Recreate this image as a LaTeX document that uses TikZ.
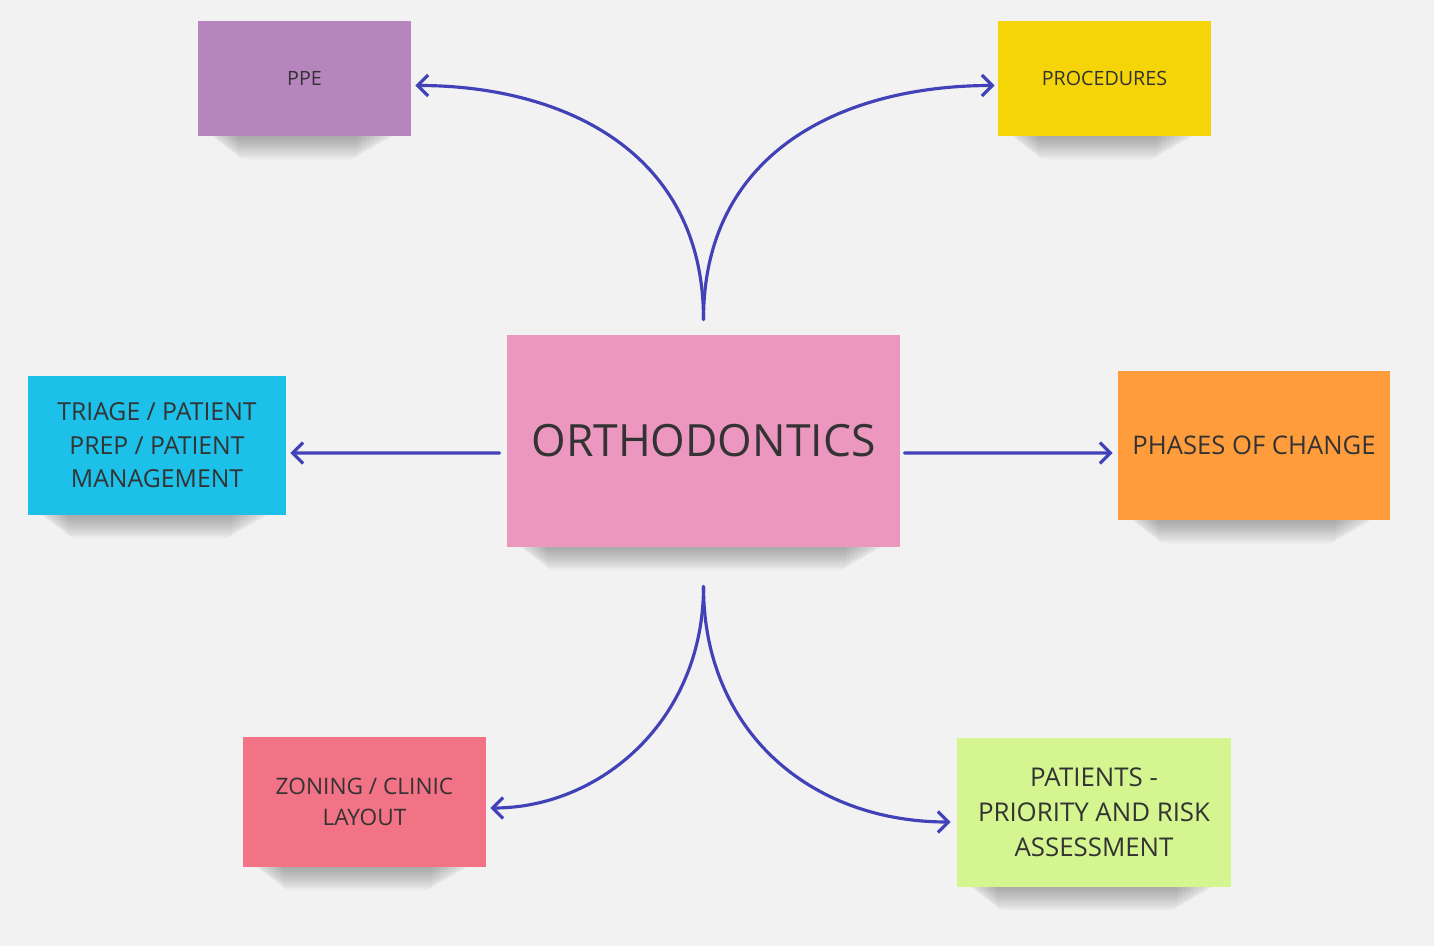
\documentclass[tikz,border=0pt]{standalone}
\usepackage{fontspec}
\setmainfont{Open Sans}
\usetikzlibrary{arrows.meta,calc,backgrounds}
\definecolor{bg}{HTML}{F2F2F2}
\definecolor{cpink}{HTML}{EC97BF}
\definecolor{cpurple}{HTML}{B785BE}
\definecolor{cyellow}{HTML}{F6D508}
\definecolor{ccyan}{HTML}{1CC0E8}
\definecolor{corange}{HTML}{FF9D3D}
\definecolor{cred}{HTML}{F27286}
\definecolor{cgreen}{HTML}{D5F590}
\definecolor{ctext}{HTML}{333333}
\definecolor{cline}{HTML}{4242B8}
\tikzset{
  note/.style={rectangle, inner sep=0pt, align=center, text=ctext},
  shade layer/.style={fill=black, opacity=0.032, rounded corners=4pt},
  conn/.style={draw=cline, line width=1.8pt, line cap=round,
    -{Straight Barb[length=6pt,width=12pt,line width=1.8pt]}}
}
\begin{document}
\begin{tikzpicture}[x=0.02cm,y=-0.02cm]
\useasboundingbox (0,0) rectangle (1434,946);

\node[note, fill=cpink, minimum width=393*0.02cm, minimum height=212*0.02cm,
  font=\fontsize{25.3}{30}\selectfont] (center) at (703.5,441) {ORTHODONTICS};
\node[note, fill=cpurple, minimum width=213*0.02cm, minimum height=115*0.02cm,
  font=\fontsize{11.2}{14}\selectfont] (ppe) at (304.5,78.5) {PPE};
\node[note, fill=cyellow, minimum width=213*0.02cm, minimum height=115*0.02cm,
  font=\fontsize{11.2}{14}\selectfont] (proc) at (1104.5,78.5) {PROCEDURES};
\node[note, fill=ccyan, minimum width=258*0.02cm, minimum height=139*0.02cm,
  font=\fontsize{14.1}{19}\selectfont] (tri)
  at (157,445.5) {TRIAGE / PATIENT\\PREP / PATIENT\\MANAGEMENT};
\node[note, fill=corange, minimum width=272*0.02cm, minimum height=149*0.02cm,
  font=\fontsize{14.6}{19}\selectfont] (phase)
  at (1254,445.5) {PHASES OF CHANGE};
\node[note, fill=cred, minimum width=243*0.02cm, minimum height=130*0.02cm,
  font=\fontsize{12.9}{17.6}\selectfont] (zone)
  at (364.5,802) {ZONING / CLINIC\\LAYOUT};
\node[note, fill=cgreen, minimum width=274*0.02cm, minimum height=149*0.02cm,
  font=\fontsize{14.7}{20}\selectfont] (pat)
  at (1094,812.5) {PATIENTS -\\PRIORITY AND RISK\\ASSESSMENT};

\begin{pgfonlayer}{background}
  \fill[bg] (0,0) rectangle (1434,946);
  \foreach \n in {center,ppe,proc,tri,phase,zone,pat}{
    \foreach \k in {1,...,10}{
      \fill[shade layer] ($(\n.south west)+(10+3*\k,-10)$) rectangle ($(\n.south east)+(-14-4*\k,2.3*\k)$);
    }
  }
\end{pgfonlayer}

\coordinate (ctop) at ($(center.north)+(0,-15)$);
\coordinate (cbot) at ($(center.south)+(0,39)$);
\coordinate (cleft) at ($(center.west)+(-7,12)$);
\coordinate (cright) at ($(center.east)+(4,12)$);

\draw[conn] (ctop) .. controls ($(ctop)+(0,-170)$) and ($(ppe.east)+(149,7)$) .. ($(ppe.east)+(4,7)$);
\draw[conn] (ctop) .. controls ($(ctop)+(0,-170)$) and ($(proc.west)+(-152,7)$) .. ($(proc.west)+(-3,7)$);
\draw[conn] (cleft) -- ($(tri.east)+(4,7.5)$);
\draw[conn] (cright) -- ($(phase.west)+(-5,7.5)$);
\draw[conn] (cbot) .. controls ($(cbot)+(0,134)$) and ($(zone.east)+(114,6)$) .. ($(zone.east)+(4,6)$);
\draw[conn] (cbot) .. controls ($(cbot)+(0,144)$) and ($(pat.west)+(-147,9.5)$) .. ($(pat.west)+(-6,9.5)$);
\end{tikzpicture}
\end{document}
